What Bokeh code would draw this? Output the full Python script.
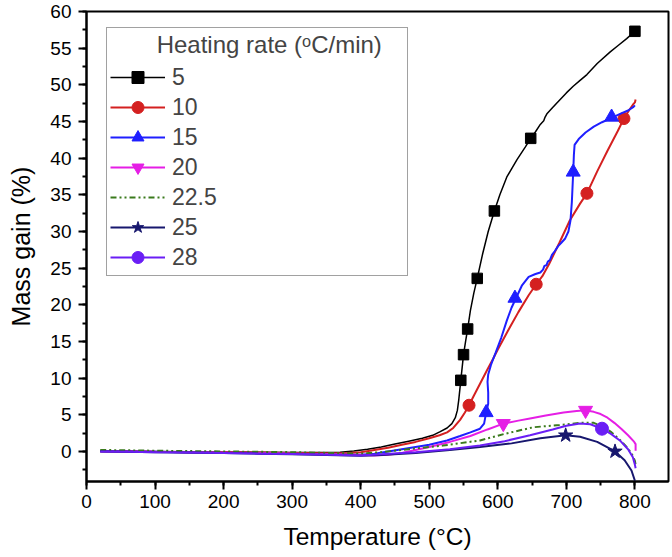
from bokeh.plotting import figure
from bokeh.models import Legend, LegendItem, SingleIntervalTicker
from bokeh.embed import file_html
from bokeh.resources import INLINE

# ---- data: temperature (°C) and mass gain (%) per heating rate ----
rates = ["5", "10", "15", "20", "22.5", "25", "28"]

t5 = [20, 60, 100, 150, 200, 250, 300, 340, 370, 390, 410, 430, 450, 470, 490, 505, 516, 526, 533, 538,
      541, 543, 546, 550, 553, 556, 560, 565, 570, 578, 586, 595, 603, 613, 628, 640, 648, 655, 662, 667,
      669, 672, 680, 691, 700, 710, 720, 730, 745, 764, 776, 788, 800]
m5 = [0.1, 0.05, 0.0, -0.05, -0.05, -0.1, -0.15, -0.15, -0.1, 0.05, 0.3, 0.6, 1.0, 1.4, 1.8, 2.2, 2.7, 3.2, 3.8, 4.6,
      5.6, 7.0, 9.7, 13.2, 15.0, 16.7, 19.2, 21.6, 23.6, 27.0, 30.0, 32.8, 35.0, 37.4, 39.8, 41.5, 42.7, 43.6, 44.6, 45.1,
      45.6, 46.1, 46.9, 48.0, 48.9, 49.8, 50.6, 51.4, 52.9, 54.5, 55.4, 56.3, 57.3]
mk_t5 = [546, 550, 556, 570, 595, 648, 800]
mk_m5 = [9.7, 13.2, 16.7, 23.6, 32.8, 42.7, 57.3]

t10 = [20, 60, 100, 150, 200, 250, 300, 350, 380, 400, 420, 440, 460, 480, 500, 515, 526, 535, 545, 552,
       558, 565, 575, 585, 593, 600, 615, 630, 645, 656, 665, 675, 690, 705, 720, 730, 745, 760, 775, 784,
       792, 798, 800, 801]
m10 = [0.05, 0.0, -0.05, -0.1, -0.1, -0.15, -0.2, -0.25, -0.2, -0.1, 0.2, 0.5, 0.9, 1.3, 1.8, 2.2, 2.6, 3.2, 4.3, 5.3,
       6.3, 7.6, 9.4, 11.2, 12.6, 13.9, 16.5, 19.0, 21.3, 22.8, 23.9, 25.6, 28.5, 31.5, 33.8, 35.2, 38.2, 41.0, 43.7, 45.4,
       46.6, 47.4, 47.6, 48.0]
mk_t10 = [558, 656, 730, 784]
mk_m10 = [6.3, 22.8, 35.2, 45.4]

t15 = [20, 60, 100, 150, 200, 250, 300, 350, 380, 400, 420, 440, 460, 480, 500, 526, 545, 560, 574, 580,
       583, 586, 586, 585, 586, 590, 597, 605, 613, 620, 627, 635, 645, 655, 662, 666, 668, 671, 673, 676,
       679, 683, 688, 693, 698, 703, 706, 708, 710, 711, 712, 718, 728, 740, 752, 766, 780, 790, 798, 800]
m15 = [0.05, 0.0, -0.05, -0.15, -0.2, -0.25, -0.3, -0.4, -0.45, -0.45, -0.3, 0.0, 0.3, 0.6, 0.9, 1.5, 2.1, 2.6, 3.1, 3.8,
       5.3, 6.5, 8.0, 9.5, 10.5, 11.8, 13.5, 15.5, 17.8, 19.6, 21.0, 22.6, 23.8, 24.2, 24.4, 24.8, 25.3, 25.4, 25.9, 26.1,
       26.8, 27.3, 28.0, 28.5, 29.0, 30.0, 31.5, 34.0, 38.1, 40.5, 41.8, 42.6, 43.5, 44.3, 44.9, 45.5, 46.1, 46.5, 47.0, 47.2]
mk_t15 = [583, 625, 710, 766]
mk_m15 = [5.3, 20.9, 38.1, 45.6]

t20 = [20, 60, 100, 150, 200, 250, 300, 350, 400, 420, 440, 460, 480, 500, 530, 560, 585, 608, 630, 647,
       670, 696, 715, 728, 740, 750, 760, 770, 780, 790, 799, 801, 801]
m20 = [0.0, 0.0, -0.05, -0.1, -0.15, -0.2, -0.3, -0.4, -0.5, -0.55, -0.45, -0.2, 0.2, 0.6, 1.3, 2.1, 3.0, 3.8, 4.2, 4.5,
       4.9, 5.3, 5.5, 5.6, 5.4, 5.1, 4.6, 3.9, 3.1, 2.2, 1.3, 1.0, 0.1]
mk_t20 = [608, 728]
mk_m20 = [3.8, 5.6]

t22 = [20, 60, 100, 150, 200, 250, 300, 350, 400, 430, 470, 520, 574, 610, 652, 690, 720, 740, 755, 766,
       780, 790, 797, 800, 801]
m22 = [0.2, 0.15, 0.1, 0.05, 0.0, -0.05, -0.1, -0.2, -0.3, -0.1, 0.3, 0.8, 1.5, 2.4, 3.3, 3.6, 3.9, 3.9, 3.3, 2.6,
       1.4, 0.4, -0.6, -1.3, -1.8]

t25 = [20, 60, 100, 150, 200, 250, 300, 350, 400, 430, 480, 530, 574, 620, 662, 699, 720, 745, 771, 785,
       795, 800]
m25 = [0.0, -0.05, -0.1, -0.15, -0.2, -0.3, -0.4, -0.5, -0.6, -0.5, -0.2, 0.2, 0.6, 1.1, 1.8, 2.2, 2.0, 1.3, 0.0, -1.2,
       -2.6, -4.0]
mk_t25 = [699, 771]
mk_m25 = [2.2, 0.0]

t28 = [20, 60, 100, 150, 200, 250, 300, 350, 400, 430, 480, 530, 574, 610, 647, 680, 700, 720, 735, 752,
       765, 778, 790, 797, 800, 801]
m28 = [0.0, -0.05, -0.1, -0.15, -0.2, -0.3, -0.35, -0.45, -0.55, -0.4, -0.1, 0.3, 0.8, 1.4, 2.2, 3.0, 3.5, 3.8, 3.7, 3.1,
       2.4, 1.5, 0.3, -0.8, -1.8, -2.3]
mk_t28 = [752]
mk_m28 = [3.1]

# ---- styles ----
FONT = "Liberation Sans"
series = [
    (rates[0], t5, m5, mk_t5, mk_m5, "#000000", 1.5, "solid", "square", 10.5),
    (rates[1], t10, m10, mk_t10, mk_m10, "#d42020", 2, "solid", "circle", 12),
    (rates[2], t15, m15, mk_t15, mk_m15, "#1f1fff", 2, "solid", "triangle", 14),
    (rates[3], t20, m20, mk_t20, mk_m20, "#e51ee5", 2, "solid", "inverted_triangle", 14),
    (rates[4], t22, m22, None, None, "#3a7a1c", 2, "6 3 2 3 2 3", None, 0),
    (rates[5], t25, m25, mk_t25, mk_m25, "#17176e", 2, "solid", "star", 15),
    (rates[6], t28, m28, mk_t28, mk_m28, "#6a1ef5", 2, "solid", "circle", 13),
]

p = figure(width=670, height=557, x_range=(0, 849), y_range=(-4.1, 60),
           output_backend="svg", toolbar_location=None,
           min_border_left=86, min_border_right=2, min_border_top=11, min_border_bottom=76)
p.xgrid.visible = False
p.ygrid.visible = False
p.outline_line_color = "black"
p.outline_line_width = 2
p.background_fill_color = "white"
p.border_fill_color = "white"

p.xaxis.ticker = SingleIntervalTicker(interval=100, num_minor_ticks=2)
p.yaxis.ticker = SingleIntervalTicker(interval=5, num_minor_ticks=2)
for ax in (p.xaxis[0], p.yaxis[0]):
    ax.axis_line_width = 2
    ax.axis_line_color = "black"
    ax.major_tick_line_width = 2
    ax.minor_tick_line_width = 2
    ax.major_tick_line_color = "black"
    ax.minor_tick_line_color = "black"
    ax.major_tick_in = 0
    ax.major_tick_out = 8
    ax.minor_tick_in = 0
    ax.minor_tick_out = 4
    ax.major_label_text_font = FONT
    ax.major_label_text_font_size = "19px"
    ax.major_label_text_color = "black"
    ax.axis_label_text_font = FONT
    ax.axis_label_text_font_style = "normal"
    ax.axis_label_text_color = "black"
p.xaxis.axis_label = "Temperature (°C)"
p.yaxis.axis_label = "Mass gain (%)"
p.xaxis.axis_label_text_font_size = "24.5px"
p.yaxis.axis_label_text_font_size = "25px"
p.xaxis.axis_label_standoff = 12
p.yaxis.axis_label_standoff = 12
p.yaxis.major_label_standoff = 7

items = []
for lab, t, m, mt, mm, col, lw, dash, mk, sz in series:
    rs = [p.line(t, m, line_color=col, line_width=lw, line_dash=dash)]
    if mk is not None:
        rs.append(p.scatter(mt, mm, marker=mk, size=sz, fill_color=col, line_color=col))
    items.append(LegendItem(label=lab, renderers=rs))

legend = Legend(items=items, location=(20, 205),
                title="\u00a0" * 7 + "Heating rate (\u1d52C/min)",
                title_text_font=FONT, title_text_font_size="24px", title_text_font_style="normal",
                title_standoff=3,
                label_text_font=FONT, label_text_font_size="23px",
                glyph_width=55, glyph_height=30, label_height=30, label_standoff=7, label_width=232,
                spacing=0, padding=3, margin=0,
                border_line_color="#444444", border_line_width=1.5,
                background_fill_color="white", background_fill_alpha=1)
p.add_layout(legend)

open("out.html", "w").write(file_html(p, INLINE))
